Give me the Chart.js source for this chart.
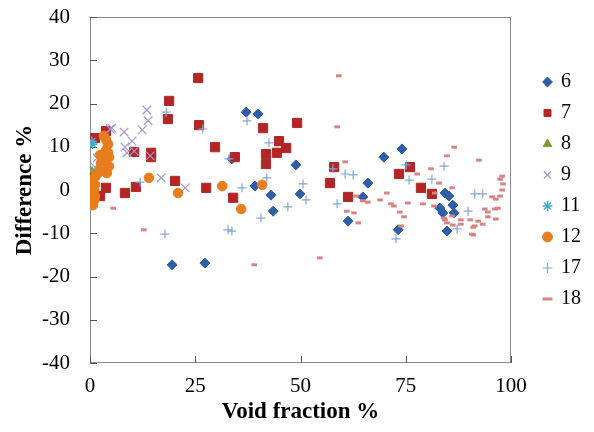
<!DOCTYPE html>
<html>
<head>
<meta charset="utf-8">
<script src="https://cdn.jsdelivr.net/npm/chart.js@4.4.1/dist/chart.umd.min.js"></script>
<style>
  body { margin: 0; background: #fff; }
</style>
</head>
<body>
<canvas id="voidChart" width="594" height="432"></canvas>
<script>
// series names (legend)
const seriesNames = ['6', '7', '8', '9', '11', '12', '17', '18'];

// void fraction % (x) and difference % (y) for each series
const x6 = [37.1, 39.9, 33.7, 48.9, 39.2, 43.0, 49.9, 43.5, 61.3, 64.8, 66.0, 74.1, 69.8, 84.3, 85.3, 86.2, 83.1, 83.8, 86.5, 73.2, 84.8, 19.5, 27.3];
const y6 = [18.0, 17.6, 7.2, 5.8, 0.9, -1.2, -0.9, -4.9, -7.2, -1.6, 1.6, 9.5, 7.6, -0.7, -1.4, -3.5, -4.2, -5.3, -5.3, -9.2, -9.5, -17.3, -16.9];

const x7 = [25.7, 18.8, 18.5, 25.9, 29.7, 10.5, 14.5, 14.5, 3.8, 1.2, 20.2, 27.6, 10.9, 8.3, 3.8, 2.4, 0.2, 0.2, 41.1, 49.2, 44.9, 46.6, 44.4, 41.8, 41.8, 34.4, 34.0, 58.0, 57.0, 61.3, 76.0, 73.4, 78.6, 81.2];
const y7 = [25.9, 20.6, 16.4, 15.0, 9.9, 8.8, 8.6, 7.6, 13.6, 12.0, 2.1, 0.5, 0.7, -0.7, 0.5, -1.4, 2.8, 0.0, 14.3, 15.5, 11.3, 9.7, 8.6, 8.3, 6.0, 7.6, -1.8, 5.3, 1.6, -1.6, 5.3, 3.7, 0.5, -0.9];

const x8 = [0.5, 0.8, 0.3, 1.0, 0.5, 0.2, 0.8, 0.4, 1.2, 0.6, 1.5, 0.2, 0.9, 1.8];
const y8 = [4.5, 3.5, 2.5, 1.5, 0.5, -0.5, -1.0, -1.8, 2.0, 3.0, 4.0, 1.0, 0.0, 5.0];

const x9 = [13.5, 13.8, 12.4, 5.2, 4.8, 8.1, 10.0, 8.3, 8.8, 10.5, 14.3, 16.9, 22.6, 1.7, 1.2];
const y9 = [18.5, 16.0, 13.9, 14.3, 14.1, 13.4, 11.3, 9.9, 8.6, 9.0, 7.9, 2.8, 0.5, 7.4, 5.3];

const x11 = [0.4, 0.6];
const y11 = [11.2, 10.6];

const x12 = [3.3, 4.3, 3.8, 4.3, 4.5, 3.6, 4.5, 3.1, 4.0, 1.9, 1.2, 0.7, 1.2, 1.0, 1.2, 1.0, 0.7, 14.0, 20.9, 31.4, 40.9, 35.9, 3.8, 2.6, 2.4];
const y12 = [12.5, 10.6, 9.2, 8.6, 7.6, 6.9, 5.5, 5.1, 3.9, 3.9, 3.0, 2.1, 1.2, 0.0, -1.4, -2.3, -3.5, 2.8, -0.7, 0.9, 1.2, -4.4, 11.6, 6.2, 8.1];

const x17 = [18.1, 26.8, 33.0, 11.9, 17.8, 32.8, 37.3, 42.5, 42.0, 36.1, 50.6, 51.3, 47.0, 40.6, 33.7, 57.7, 60.6, 62.5, 58.7, 75.1, 75.8, 81.2, 84.1, 89.8, 91.4, 93.3, 87.2, 72.7];
const y17 = [18.0, 14.1, 7.2, 1.8, -10.2, -9.2, 16.0, 10.9, 2.8, 0.5, 1.4, -2.3, -3.9, -6.5, -9.5, 4.9, 3.7, 3.5, -3.2, 5.8, 2.3, 2.5, 5.5, -4.9, -0.9, -0.9, -9.0, -11.3];

const x18 = [59.1, 58.7, 60.6, 64.8, 66.0, 61.0, 62.7, 63.7, 5.5, 12.8, 54.6, 39.0, 86.5, 84.8, 92.4, 81.0, 77.7, 82.9, 86.0, 81.9, 70.5, 68.9, 71.5, 72.2, 75.5, 79.1, 81.7, 73.6, 74.6, 73.9, 84.3, 84.8, 86.0, 88.1, 88.1, 90.3, 92.2, 93.8, 94.5, 96.2, 96.9, 94.5, 96.4, 93.3, 91.4, 90.7, 97.9, 98.1, 97.9, 97.4, 96.4, 95.5, 97.4, 91.0, 84.1, 86.2, 91.0, 63.2];
const y18 = [26.4, 14.6, 6.5, -2.5, -2.8, -4.9, -5.3, -7.6, -4.2, -9.2, -15.7, -17.3, 9.9, 7.9, 6.9, 4.9, 3.7, 1.6, 0.5, -0.7, -0.7, -2.3, -3.2, -3.7, -3.0, -3.2, -3.7, -5.1, -6.2, -8.3, -6.9, -7.6, -6.0, -6.9, -7.9, -6.9, -7.2, -4.4, -5.1, -4.4, -4.2, -6.2, -6.7, -7.9, -8.3, -10.2, 3.2, 1.4, 0.0, -1.4, -2.1, -1.6, 2.5, -8.6, -6.5, -8.1, -10.4, -1.4];

// axis ticks
const xTicks = [0, 25, 50, 75, 100];
const yTicks = [-40, -30, -20, -10, 0, 10, 20, 30, 40];

const serif = 'Liberation Serif, Times New Roman, serif';

function pts(xs, ys) {
  return xs.map((x, i) => ({ x: x, y: ys[i] }));
}

const allX = [x6, x7, x8, x9, x11, x12, x17, x18];
const allY = [y6, y7, y8, y9, y11, y12, y17, y18];
const styles = [
  { pointStyle: 'rectRot', radius: 5, color: 'rgb(46,94,168)', fill: true, bw: 1 },
  { pointStyle: 'rect', radius: 6.5, color: 'rgb(178,38,38)', fill: true, bw: 1 },
  { pointStyle: 'triangle', radius: 4, color: 'rgb(122,160,52)', fill: true, bw: 1 },
  { pointStyle: 'crossRot', radius: 6, color: 'rgb(160,150,205)', fill: false, bw: 1.2 },
  { pointStyle: 'star', radius: 5, color: 'rgb(72,172,198)', fill: false, bw: 1.5 },
  { pointStyle: 'circle', radius: 4.8, color: 'rgb(232,125,30)', fill: true, bw: 1 },
  { pointStyle: 'cross', radius: 4.5, color: 'rgb(135,165,218)', fill: false, bw: 1.2 },
  { pointStyle: 'line', radius: 2.8, color: 'rgb(218,130,130)', fill: false, bw: 3 }
];

const datasets = seriesNames.map((name, i) => ({
  label: name,
  data: pts(allX[i], allY[i]),
  pointStyle: styles[i].pointStyle,
  pointRadius: styles[i].radius,
  pointHoverRadius: styles[i].radius,
  backgroundColor: styles[i].fill ? styles[i].color : 'rgba(0,0,0,0)',
  borderColor: styles[i].color,
  borderWidth: styles[i].bw,
  order: seriesNames.length - i // later series on top, like the original
}));

// frame around the plot + inward tick marks
const frameTicks = {
  id: 'frameTicks',
  beforeDatasetsDraw(chart) {
    const { ctx, chartArea: a, scales } = chart;
    ctx.save();
    ctx.strokeStyle = '#8a8a8a';
    ctx.lineWidth = 1;
    ctx.strokeRect(a.left + 0.5, a.top + 0.5, a.right - a.left - 1, a.bottom - a.top - 1);
    ctx.beginPath();
    ctx.strokeStyle = '#555';
    scales.y.ticks.forEach(t => {
      const py = Math.round(scales.y.getPixelForValue(t.value)) + 0.5;
      ctx.moveTo(a.left, py);
      ctx.lineTo(a.left + 7, py);
    });
    scales.x.ticks.forEach(t => {
      const px = Math.round(scales.x.getPixelForValue(t.value)) + 0.5;
      ctx.moveTo(px, a.bottom);
      ctx.lineTo(px, a.bottom - 7);
    });
    ctx.stroke();
    ctx.restore();
  }
};

// fix the legend box size and move it where the original has it
const legendPlace = {
  id: 'legendPlace',
  afterInit(chart) {
    const lg = chart.legend;
    const fit = lg.fit;
    lg.fit = function () { fit.call(this); this.width = 83; };
  },
  beforeDraw(chart) {
    const lg = chart.legend;
    lg.left = 533;
    lg.top = 0;
    lg.bottom = 381;
  }
};

new Chart(document.getElementById('voidChart'), {
  type: 'scatter',
  data: { datasets: datasets },
  options: {
    responsive: false,
    animation: false,
    layout: { padding: { top: 17, left: 0, right: 0, bottom: 0 } },
    scales: {
      x: {
        min: 0,
        max: 100,
        afterBuildTicks: s => { s.ticks = xTicks.map(v => ({ value: v })); },
        afterFit: s => { s.height = 69; s.paddingLeft = 0; s.paddingRight = 0; },
        grid: { display: false },
        border: { display: false },
        ticks: { color: '#000', padding: 3, font: { family: serif, size: 21 } },
        title: {
          display: true,
          text: 'Void fraction %',
          color: '#000',
          padding: { top: 0, bottom: 6 },
          font: { family: serif, size: 23, weight: 'bold' }
        }
      },
      y: {
        min: -40,
        max: 40,
        afterBuildTicks: s => { s.ticks = yTicks.map(v => ({ value: v })); },
        afterFit: s => { s.width = 90; s.paddingTop = 0; s.paddingBottom = 0; },
        grid: { display: false },
        border: { display: false },
        ticks: { color: '#000', padding: 12, font: { family: serif, size: 21 } },
        title: {
          display: true,
          text: 'Difference %',
          color: '#000',
          padding: { top: 11, bottom: 0 },
          font: { family: serif, size: 23, weight: 'bold' }
        }
      }
    },
    plugins: {
      legend: {
        position: 'right',
        labels: {
          usePointStyle: true,
          boxWidth: 7,
          boxHeight: 7,
          padding: 11,
          color: '#000',
          font: { family: serif, size: 20 },
          sort: (a, b) => a.datasetIndex - b.datasetIndex
        }
      },
      tooltip: { enabled: false }
    }
  },
  plugins: [frameTicks, legendPlace]
});
</script>
</body>
</html>
